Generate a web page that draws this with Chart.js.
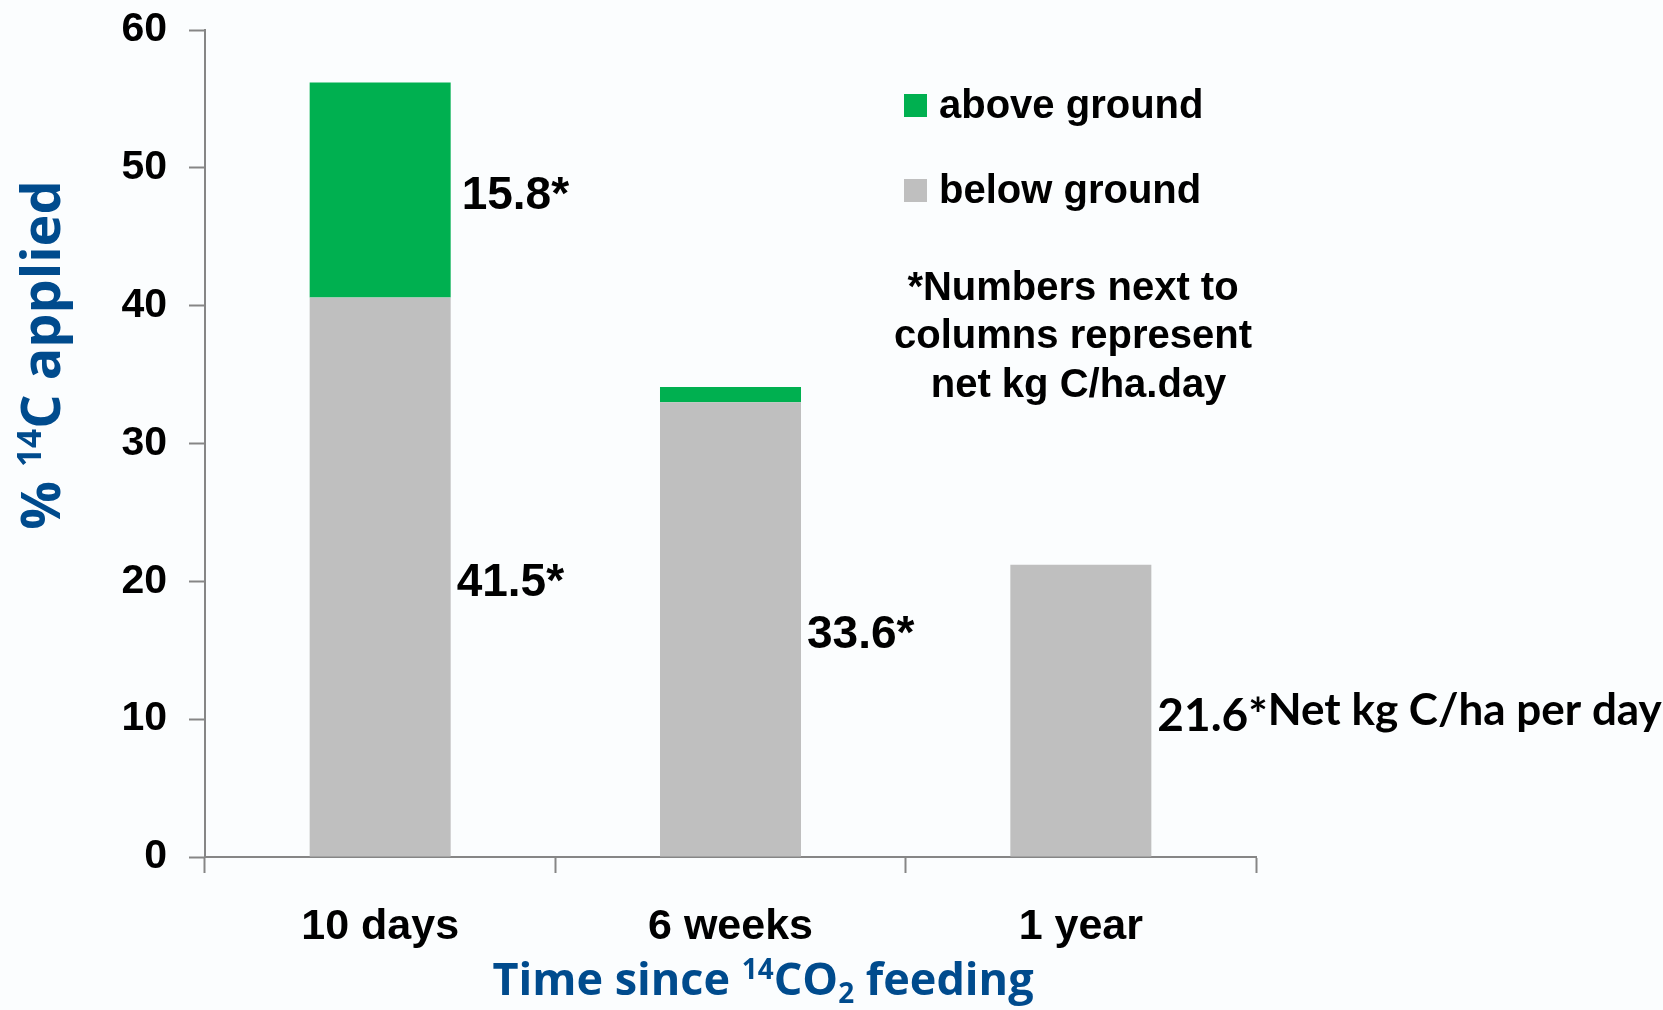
<!DOCTYPE html>
<html>
<head>
<meta charset="utf-8">
<script src="https://cdn.jsdelivr.net/npm/chart.js@4.4.1/dist/chart.umd.min.js"></script>
<style>
  html, body { margin: 0; padding: 0; background: #fbfdfe; }
  canvas { display: block; }
</style>
</head>
<body>
<canvas id="chart" width="1663" height="1010"></canvas>
<script>
// ---- data ----
const categories = ['10 days', '6 weeks', '1 year'];
const belowGround = [40.6, 33.0, 21.2];
const aboveGround = [15.6, 1.1, 0];
const seriesAbove = 'above ground';
const seriesBelow = 'below ground';
const yTickValues = [0, 10, 20, 30, 40, 50, 60];
const aboveRateLabels = ['15.8*', '', ''];
const belowRateLabels = ['41.5*', '33.6*', '21.6*'];
const rateUnitText = 'Net kg C/ha per day';
const noteLines = ['*Numbers next to', 'columns represent', ' net kg C/ha.day'];
const xTitleParts = [
  { t: 'Time since ', k: 'n' }, { t: '14', k: 'sup' }, { t: 'CO', k: 'n' },
  { t: '2', k: 'sub' }, { t: ' feeding', k: 'n' }
];
const yTitleParts = [
  { t: '% ', k: 'n' }, { t: '14', k: 'sup' }, { t: 'C applied', k: 'n' }
];

// ---- styles ----
const GREEN = '#00b050';
const GREY = '#bfbfbf';
const AXIS = '#868686';
const BLUE = '#004b8d';
const ARIAL = '"Liberation Sans", Arial, sans-serif';
const CALIBRI = 'Lato, "Open Sans", sans-serif';
const TITLE_FONT = '"Open Sans", Lato, sans-serif';

function drawRich(ctx, parts, size, family, cx, baseline) {
  const items = parts.map(p => {
    const s = p.k === 'n' ? size : size * 0.62;
    ctx.font = `bold ${s}px ${family}`;
    return { ...p, s, w: ctx.measureText(p.t).width };
  });
  const total = items.reduce((a, it) => a + it.w, 0);
  let x = cx - total / 2;
  ctx.textAlign = 'left';
  ctx.textBaseline = 'alphabetic';
  items.forEach(it => {
    ctx.font = `bold ${it.s}px ${family}`;
    const dy = it.k === 'sup' ? -size * 0.36 : (it.k === 'sub' ? size * 0.17 : 0);
    ctx.fillText(it.t, x, baseline + dy);
    x += it.w;
  });
}

// labels next to the columns, legend, note and axis titles
const decorations = {
  id: 'decorations',
  afterDatasetsDraw(chart) {
    const ctx = chart.ctx;
    ctx.save();
    ctx.fillStyle = '#000';
    const belowMeta = chart.getDatasetMeta(0);
    const aboveMeta = chart.getDatasetMeta(1);
    const last = categories.length - 1;

    const place = (meta, labels, gap) => {
      meta.data.forEach((el, i) => {
        const txt = labels[i];
        if (!txt) return;
        const x = el.x + el.width / 2 + gap;
        const y = (el.y + el.base) / 2 + 6;
        ctx.textAlign = 'left';
        ctx.textBaseline = 'middle';
        if (i === last) {
          ctx.font = `bold 46px ${CALIBRI}`;
          ctx.fillText(txt, x, y);
          const w = ctx.measureText(txt).width;
          ctx.font = `bold 44px ${CALIBRI}`;
          ctx.fillText(rateUnitText, x + w, y - 6);
        } else {
          ctx.font = `bold 46px ${ARIAL}`;
          ctx.fillText(txt, x, y);
        }
      });
    };
    place(aboveMeta, aboveRateLabels, 11);
    place(belowMeta, belowRateLabels, 6);

    // legend
    const legendRows = [
      { name: seriesAbove, color: GREEN, y: 94 },
      { name: seriesBelow, color: GREY, y: 179 }
    ];
    ctx.font = `bold 40px ${ARIAL}`;
    ctx.textAlign = 'left';
    ctx.textBaseline = 'alphabetic';
    legendRows.forEach(r => {
      ctx.fillStyle = r.color;
      ctx.fillRect(904, r.y, 23, 23);
      ctx.fillStyle = '#000';
      ctx.fillText(r.name, 939, r.y + 24);
    });

    // note
    ctx.textAlign = 'center';
    const noteBase = [300, 348, 397];
    noteLines.forEach((line, i) => ctx.fillText(line, 1073, noteBase[i]));

    // axis titles
    ctx.fillStyle = BLUE;
    drawRich(ctx, xTitleParts, 45, TITLE_FONT, 763, 995);
    ctx.translate(60, 355);
    ctx.rotate(-Math.PI / 2);
    drawRich(ctx, yTitleParts, 54, TITLE_FONT, 0, 0);
    ctx.restore();
  }
};

new Chart(document.getElementById('chart'), {
  type: 'bar',
  data: {
    labels: categories,
    datasets: [
      { label: seriesBelow, data: belowGround, backgroundColor: GREY },
      { label: seriesAbove, data: aboveGround, backgroundColor: GREEN }
    ]
  },
  options: {
    responsive: false,
    devicePixelRatio: 1,
    animation: false,
    layout: { padding: { left: 0, top: 30, right: 407, bottom: 0 } },
    datasets: { bar: { categoryPercentage: 1, barPercentage: 0.4025 } },
    plugins: { legend: { display: false }, tooltip: { enabled: false } },
    scales: {
      x: {
        stacked: true,
        afterFit: s => { s.height = 153; s.paddingLeft = 0; s.paddingRight = 0; },
        border: { color: AXIS, width: 2 },
        grid: { offset: true, drawOnChartArea: false, tickLength: 16, tickWidth: 2, tickColor: AXIS },
        ticks: { color: '#000', padding: 28, font: { family: ARIAL, size: 43, weight: 'bold' } }
      },
      y: {
        stacked: true,
        min: 0, max: 60,
        afterFit: s => { s.width = 205; s.paddingTop = 0; s.paddingBottom = 0; },
        afterBuildTicks: s => { s.ticks = yTickValues.map(v => ({ value: v })); },
        border: { color: AXIS, width: 2 },
        grid: { drawOnChartArea: false, tickLength: 16, tickWidth: 2, tickColor: AXIS },
        ticks: { color: '#000', padding: 22, font: { family: ARIAL, size: 41, weight: 'bold' } }
      }
    }
  },
  plugins: [decorations]
});
</script>
</body>
</html>
